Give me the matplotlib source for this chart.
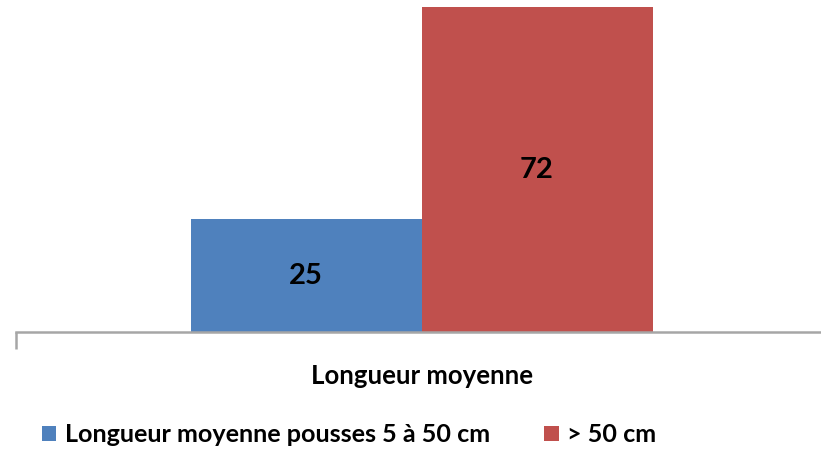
import matplotlib
matplotlib.use('Agg')
import matplotlib.pyplot as plt
from matplotlib.patches import Patch

# Data
category = 'Longueur moyenne'
series_names = ['Longueur moyenne pousses 5 à 50 cm', '> 50 cm']
series_values = [25, 72]
series_colors = ['#4F81BD', '#C0504D']

plt.rcParams['font.family'] = ['Lato', 'DejaVu Sans']
plt.rcParams['font.weight'] = 'bold'

W, H = 821, 454
fig = plt.figure(figsize=(W / 100, H / 100), dpi=100)

# axes in pixel coords: x 16..827, y 0..332 (from top)
x0, x1, ybase = 16, 827, 332
ax = fig.add_axes([x0 / W, (H - ybase) / H, (x1 - x0) / W, ybase / H])

bar_w = 1.0
half = (x1 - x0) / 2 / 231.0
offsets = [-bar_w / 2, bar_w / 2]
for val, off, col in zip(series_values, offsets, series_colors):
    ax.bar(off, val, width=bar_w, color=col)
    ax.text(off, val / 2, f'{val}', ha='center', va='center',
            fontsize=21, fontweight='bold', color='black')

ax.set_xlim(-half, half)
ax.set_ylim(0, 73.6)

for s in ['top', 'right', 'left']:
    ax.spines[s].set_visible(False)
ax.spines['bottom'].set_color('#A6A6A6')
ax.spines['bottom'].set_linewidth(1.8)
ax.set_yticks([])

ax.set_xticks([0])
ax.set_xticklabels([category], fontsize=18.5, fontweight='bold')
ax.tick_params(axis='x', which='major', length=0, pad=23)
ax.set_xticks([-half, half], minor=True)
ax.tick_params(axis='x', which='minor', length=12, width=1.8,
               color='#A6A6A6', direction='out')

handles = [Patch(facecolor=c, edgecolor='none') for c in series_colors]
fig.legend(handles, series_names, loc='center left',
           bbox_to_anchor=(42 / W, 1 - 435 / H), ncol=2, frameon=False,
           prop={'size': 18.1, 'weight': 'bold'},
           handlelength=0.57, handleheight=0.57, handletextpad=0.35,
           columnspacing=2.15, borderaxespad=0, borderpad=0)

fig.savefig('out.png', dpi=100)
